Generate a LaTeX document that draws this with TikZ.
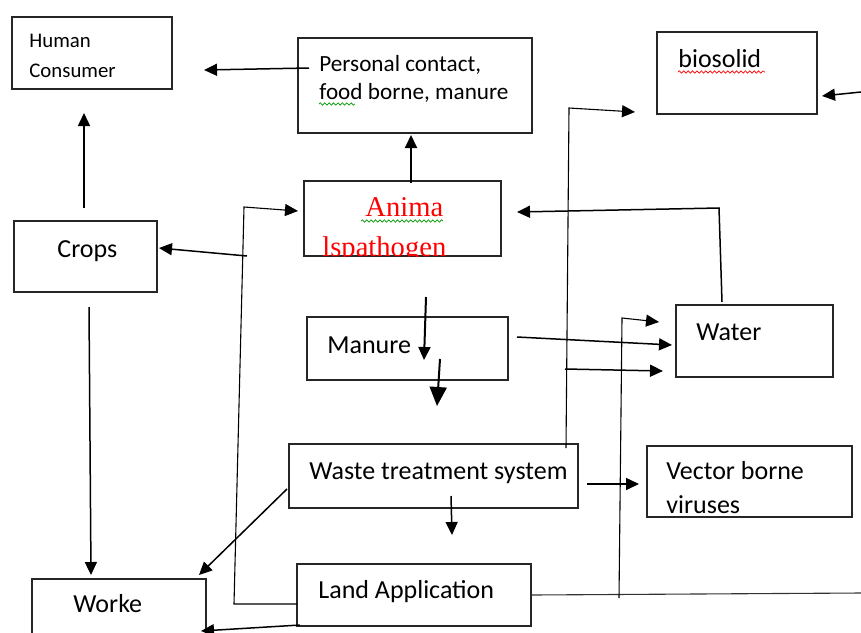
\documentclass[tikz,border=0pt]{standalone}
\usepackage{fontspec}
\setmainfont{Carlito}
\newfontfamily\serifred{Liberation Serif}
\usetikzlibrary{arrows.meta, fit, calc, decorations.pathmorphing}

\tikzset{
  box/.style={draw=black!85, line width=0.75pt, inner sep=0pt},
  lbl/.style={anchor=base west, inner sep=0pt, font=\fontsize{13}{15}\selectfont},
  small/.style={lbl, font=\fontsize{10.4}{12}\selectfont},
  mid/.style={lbl, font=\fontsize{11.6}{14}\selectfont},
  redlbl/.style={lbl, text=red, font=\serifred\fontsize{14.3}{17}\selectfont},
  arr/.style={draw=black, line width=0.75pt, -{Triangle[length=6.5pt,width=6pt]}},
  bigarr/.style={arr, line width=1pt, -{Triangle[length=9.5pt,width=8.5pt]}},
  wire/.style={draw=black!80, line width=0.55pt},
  squig/.style={draw=#1, line width=0.35pt, decorate,
    decoration={snake, amplitude=0.6pt, segment length=2.2pt}}
}

\begin{document}
\begin{tikzpicture}[x=0.5pt, y=-0.5pt]
          \clip (0,0) rectangle (861,632);
          % Boxes
          \node[box, fit={(12,17) (172,89)}] (hc) {};
          \node[box, fit={(298,38) (532,133)}] (pc) {};
          \node[box, fit={(657,32) (817,114)}] (bio) {};
          \node[box, fit={(304,181) (501,256)}] (anim) {};
          \node[box, fit={(14,221) (157,292)}] (crops) {};
          \node[box, fit={(307,317) (508,380)}] (manure) {};
          \node[box, fit={(676,305) (833,377)}] (water) {};
          \node[box, fit={(289,444) (578,508)}] (waste) {};
          \node[box, fit={(647,446) (852,517)}] (vector) {};
          \node[box, fit={(297,564) (531,626)}] (land) {};
          \node[box, fit={(32,579) (206,660)}] (worke) {};
          % Labels
          \node[small] (hc1) at (29,47) {Human};
          \node[small] (hc2) at (29,77) {Consumer};
          \node[mid] (pc1) at (319,71) {Personal contact,};
          \node[mid] (pc2) at (319,99) {food borne, manure};
          \node[lbl] (biot) at (678,67) {biosolid};
          \begin{scope}
            \clip (anim.south west) rectangle (anim.north east);
            \node[redlbl] (an1) at (365,216) {Anima};
            \node[redlbl] (an2) at (322,256) {lspathogen};
          \end{scope}
          \node[lbl] (cropst) at (57,257) {Crops};
          \node[lbl] (manuret) at (327,353) {Manure};
          \node[lbl] (watert) at (696,340) {Water};
          \node[lbl] (wastet) at (309,479) {Waste treatment system};
          \node[lbl] (vec1) at (666,479) {Vector borne};
          \node[lbl] (vec2) at (666,513) {viruses};
          \node[lbl] (landt) at (318,598) {Land Application};
          \node[lbl] (worket) at (73,612) {Worke};
          % Spelling marks
          \draw[squig=green!60!black] ($(pc2.base west)+(0,5)$) -- ++(36,0);
          \draw[squig=green!60!black] ($(an1.base west)+(-4,5)$) -- ++(82,0);
          \draw[squig=red] ($(biot.base west)+(0,5)$) -- ++(87,0);
          % Free ends and corners
          \coordinate (pc-out) at (309,68);   \coordinate (hc-in) at (204,70);
          \coordinate (cr-up) at (84,208);    \coordinate (hc-up) at (84,113);
          \coordinate (an-up) at (411,183);   \coordinate (pc-dn) at (411,135);
          \coordinate (ld-l) at (297,604);    \coordinate (jl-bot) at (234,604);
          \coordinate (jl-top) at (244,207);  \coordinate (an-in) at (298,211);
          \coordinate (jl-cr) at (247,256);   \coordinate (cr-in) at (159,248);
          \coordinate (wa-up) at (722,302);   \coordinate (wa-turn) at (719,208);
          \coordinate (an-in2) at (517,212);
          \coordinate (ws-up) at (566,448);   \coordinate (ws-turn) at (569,108);
          \coordinate (bio-near) at (635,112);
          \coordinate (ws-w) at (565,369);    \coordinate (wa-in2) at (663,371);
          \coordinate (mn-out) at (517,337);  \coordinate (wa-in1) at (672,345);
          \coordinate (rt-edge) at (861,593);
          \coordinate (v-bot) at (619,598);   \coordinate (v-top) at (622,318);
          \coordinate (wa-in0) at (659,322);
          \coordinate (edge-bio) at (861,92); \coordinate (bio-in) at (822,96);
          \coordinate (mn-a) at (426,297);    \coordinate (mn-b) at (424,360);
          \coordinate (mn-c) at (440,359);    \coordinate (mn-d) at (437,406);
          \coordinate (ws-vec) at (587,484);  \coordinate (vec-in) at (639,484);
          \coordinate (ws-dn) at (451,496);   \coordinate (ld-up) at (452,535);
          \coordinate (ws-wk) at (287,489);   \coordinate (wk-in) at (199,575);
          \coordinate (cr-dn) at (89,307);    \coordinate (wk-top) at (91,575);
          \coordinate (ld-wk) at (300,625);   \coordinate (wk-in2) at (201,631);
          % Connectors
          \draw[arr] (pc-out) -- (hc-in);
          \draw[arr] (cr-up) -- (hc-up);
          \draw[arr, line width=1pt] (an-up) -- (pc-dn);
          \draw[arr, line width=0.55pt] (ld-l) -- (jl-bot) -- (jl-top) -- (an-in);
          \draw[arr] (jl-cr) -- (cr-in);
          \draw[arr] (wa-up) -- (wa-turn) -- (an-in2);
          \draw[arr, line width=0.55pt] (ws-up) -- (ws-turn) -- (bio-near);
          \draw[arr] (ws-w) -- (wa-in2);
          \draw[arr] (mn-out) -- (wa-in1);
          \draw[wire] (land.east) -- (rt-edge);
          \draw[arr, line width=0.55pt] (v-bot) -- (v-top) -- (wa-in0);
          \draw[arr] (edge-bio) -- (bio-in);
          \draw[arr, line width=1pt] (mn-a) -- (mn-b);
          \draw[bigarr] (mn-c) -- (mn-d);
          \draw[arr] (ws-vec) -- (vec-in);
          \draw[arr] (ws-dn) -- (ld-up);
          \draw[arr] (ws-wk) -- (wk-in);
          \draw[arr] (cr-dn) -- (wk-top);
          \draw[arr] (ld-wk) -- (wk-in2);
        \end{tikzpicture}
\end{document}
